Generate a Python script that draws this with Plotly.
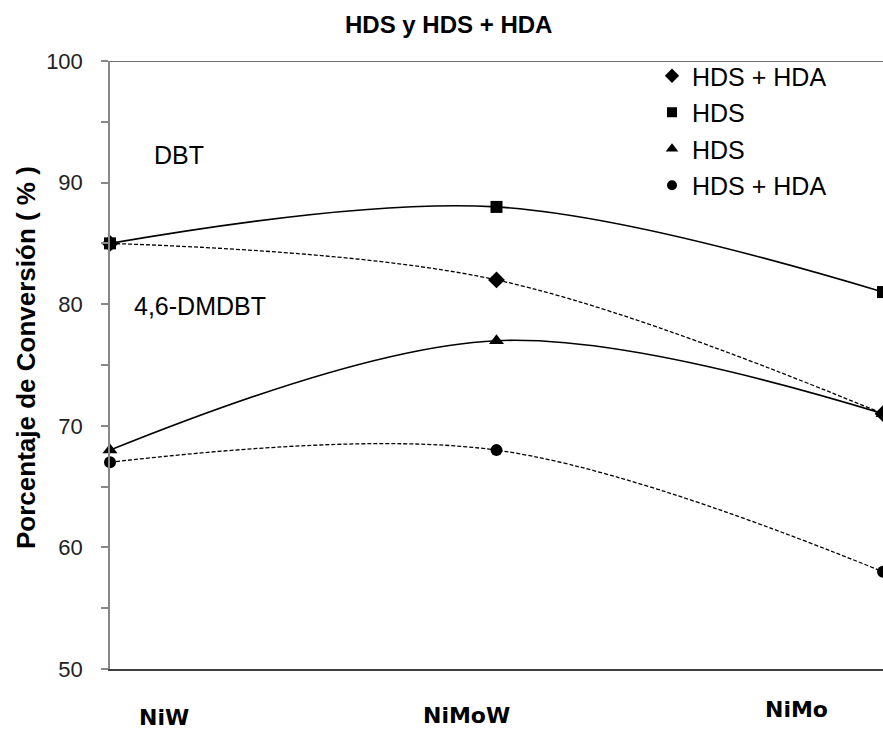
import plotly.graph_objects as go

categories = ["NiW", "NiMoW", "NiMo"]
x_pos = [0, 1, 2]

dbt_hds_hda = [85, 82, 71]      # diamond, dashed
dbt_hds = [85, 88, 81]          # square, solid
dmdbt_hds = [68, 77, 71]        # triangle, solid
dmdbt_hds_hda = [67, 68, 58]    # circle, dashed

series = [
    ("HDS + HDA", dbt_hds_hda, "diamond", "dash", 13),
    ("HDS", dbt_hds, "square", "solid", 12),
    ("HDS", dmdbt_hds, "triangle-up", "solid", 13),
    ("HDS + HDA", dmdbt_hds_hda, "circle", "dash", 12),
]

W, H = 883, 732
L, R, T, B = 110, 0, 61, 63
PW, PH = W - L - R, H - T - B

fig = go.Figure()
for name, vals, sym, dash, msize in series:
    fig.add_trace(go.Scatter(
        x=x_pos, y=vals, mode="lines+markers", name=name, showlegend=False,
        line=dict(color="black", width=1.6 if dash == "solid" else 1.3,
                  shape="spline", smoothing=1.0,
                  dash="solid" if dash == "solid" else "4px,2px"),
        marker=dict(symbol=sym, size=msize, color="black"),
        cliponaxis=False,
    ))
for i, (name, vals, sym, dash, msize) in enumerate(series):
    fig.add_trace(go.Scatter(
        x=[None], y=[None], mode="markers", name=name, showlegend=True,
        legendgroup="g%d" % i,
        marker=dict(symbol=sym, size=msize - 2, color="black"),
    ))

font_main = "Liberation Sans, Arial, sans-serif"

def px_x(px):
    return (px - L) / PW

def px_y(py):
    return (H - B - py) / PH

fig.update_layout(
    width=W, height=H,
    margin=dict(l=L, r=R, t=T, b=B),
    paper_bgcolor="white", plot_bgcolor="white",
    showlegend=True,
    legend=dict(x=px_x(652), y=px_y(53), xanchor="left", yanchor="top",
                font=dict(family=font_main, size=25, color="black"),
                itemwidth=30, tracegroupgap=1, bgcolor="rgba(0,0,0,0)"),
    xaxis=dict(range=[0, 2], showticklabels=False, ticks="", showgrid=False,
               showline=True, linecolor="#404040", linewidth=1.5, zeroline=False),
    yaxis=dict(range=[50, 100], tickvals=[50, 60, 70, 80, 90, 100],
               ticks="outside", ticklen=7, tickcolor="#888", tickwidth=1.5,
               ticklabelstandoff=14,
               minor=dict(tickvals=[55, 65, 75, 85, 95], ticks="outside", ticklen=7,
                          tickcolor="#888", tickwidth=1.5, showgrid=False),
               showgrid=False, showline=True, linecolor="#888", linewidth=1.5,
               zeroline=False,
               tickfont=dict(family=font_main, size=22, color="#222")),
    font=dict(family=font_main, color="black"),
)

# top border line at 100
fig.add_shape(type="line", xref="paper", yref="y", x0=0, x1=1, y0=100, y1=100,
              line=dict(color="#404040", width=1.5))

# title
fig.add_annotation(text="<b>HDS y HDS + HDA</b>", xref="paper", yref="paper",
                   x=px_x(448), y=px_y(24), showarrow=False,
                   font=dict(family=font_main, size=24, color="black"),
                   xanchor="center", yanchor="middle")

# y-axis title
fig.add_annotation(text="<b>Porcentaje de Conversión ( % )</b>", xref="paper", yref="paper",
                   x=px_x(26), y=px_y(358), showarrow=False, textangle=-90,
                   font=dict(family=font_main, size=26, color="black"),
                   xanchor="center", yanchor="middle")

# category labels
cat_px = [(164, 717), (466, 715), (796, 709)]
for lab, (px, py) in zip(categories, cat_px):
    fig.add_annotation(text="<b>" + lab + "</b>", xref="paper", yref="paper",
                       x=px_x(px), y=px_y(py), showarrow=False,
                       font=dict(family="DejaVu Sans, sans-serif", size=22, color="black"),
                       xanchor="center", yanchor="middle")

# series group labels
fig.add_annotation(text="DBT", xref="paper", yref="paper",
                   x=px_x(179), y=px_y(155), showarrow=False,
                   font=dict(family=font_main, size=25, color="black"),
                   xanchor="center", yanchor="middle")
fig.add_annotation(text="4,6-DMDBT", xref="paper", yref="paper",
                   x=px_x(200), y=px_y(306), showarrow=False,
                   font=dict(family=font_main, size=25, color="black"),
                   xanchor="center", yanchor="middle")

fig.write_html("out.html", config={"displayModeBar": False},
               post_script="document.body.style.margin='0';document.body.style.padding='0';")
